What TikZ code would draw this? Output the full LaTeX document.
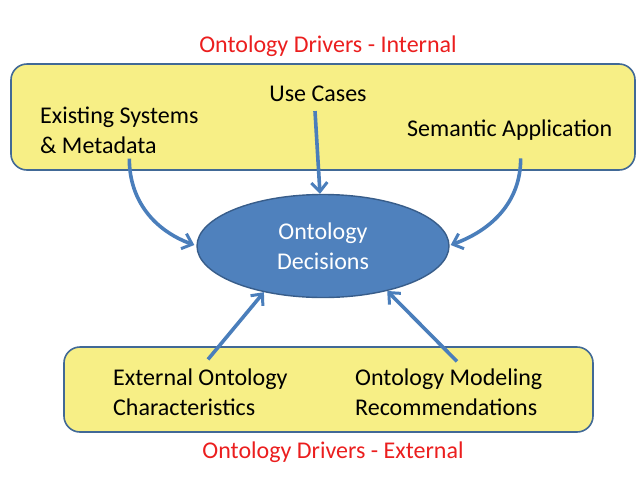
\documentclass[tikz,border=0pt]{standalone}
\usepackage{fontspec}
\setmainfont{Carlito}
\usetikzlibrary{shapes.geometric,arrows.meta}
\definecolor{boxfill}{RGB}{247,239,134}
\definecolor{boxline}{RGB}{65,105,150}
\definecolor{ellfill}{RGB}{79,129,189}
\definecolor{ellline}{RGB}{56,93,138}
\definecolor{arr}{RGB}{74,126,187}
\definecolor{titlered}{RGB}{235,30,30}
\begin{document}
\begin{tikzpicture}[x=1pt,y=-1pt,
  drvbox/.style={draw=boxline,fill=boxfill,line width=1.6pt,rounded corners=16pt},
  lbl/.style={font=\fontsize{24}{30}\selectfont,inner sep=0pt,align=left,text=black},
  ttl/.style={font=\fontsize{24}{30}\selectfont,inner sep=0pt,text=titlered},
  dec/.style={ellipse,draw=ellline,fill=ellfill,line width=1.4pt,minimum width=252pt,minimum height=103pt,inner sep=0pt,text=white,align=center,font=\fontsize{24}{30}\selectfont},
  conn/.style={draw=arr,line width=3.6pt,-{Straight Barb[length=9pt,width=16pt,line width=3pt]}}]
\useasboundingbox (0,0) rectangle (640,480);
\path[drvbox] (11,64) rectangle (635,170);
\path[drvbox] (64,347) rectangle (593,432);
\node[ttl] (ti) at (328,46) {Ontology Drivers - Internal};
\node[ttl] (te) at (333,452) {Ontology Drivers - External};
\node[dec] (d) at (323,246) {Ontology\\Decisions};
\node[lbl,anchor=west] (es) at (40,130) {Existing Systems\\\& Metadata};
\node[lbl] (uc) at (318,94) {Use Cases};
\node[lbl,anchor=west] (sa) at (407,130) {Semantic Application};
\node[lbl,anchor=west] (eo) at (113,392) {External Ontology\\Characteristics};
\node[lbl,anchor=west] (om) at (355,392) {Ontology Modeling\\Recommendations};
\draw[conn] ([xshift=-3pt,yshift=-9pt]uc.south) -- ([xshift=-3pt]d.north);
\draw[conn] ([xshift=10pt,yshift=-5pt]es.south) to[out=-90,in=160] ([xshift=-2pt,yshift=1pt]d.west);
\draw[conn] ([xshift=11pt,yshift=-18pt]sa.south) to[out=-90,in=20] ([xshift=1pt,yshift=1pt]d.east);
\draw[conn] ([xshift=95pt,yshift=9pt]eo.north west) -- (d.-142);
\draw[conn] ([xshift=102pt,yshift=7pt]om.north west) -- (d.-35);
\end{tikzpicture}
\end{document}
